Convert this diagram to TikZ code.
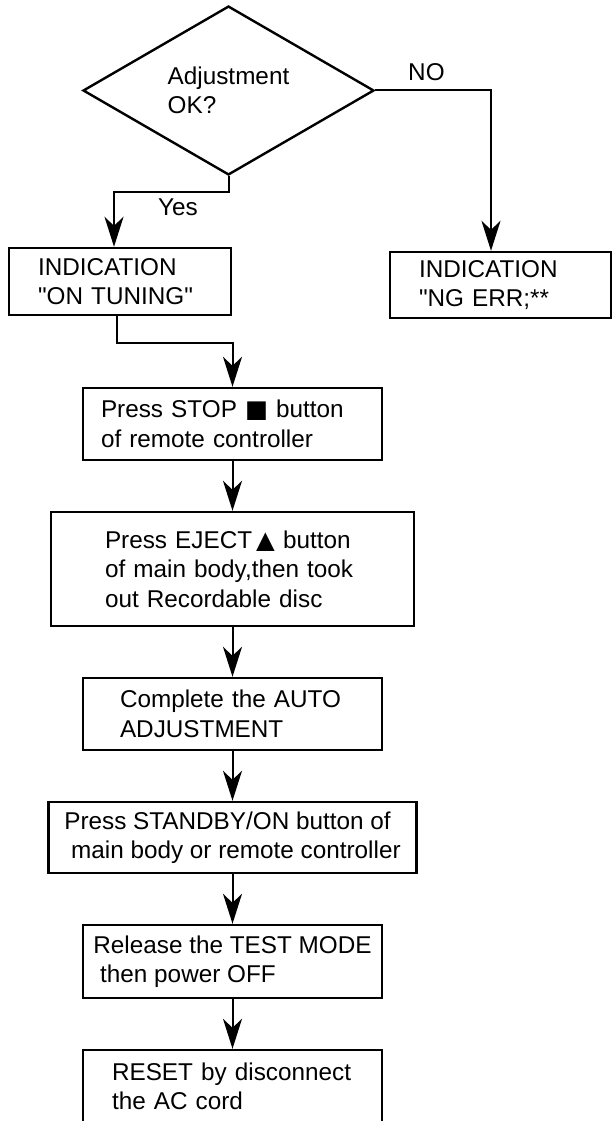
\documentclass[tikz,border=0pt]{standalone}
\usepackage{fontspec}
\setmainfont{Liberation Sans}[Ligatures=TeXOff]
\newfontfamily\symfont{DejaVu Sans}
\usetikzlibrary{arrows.meta, positioning, shapes.geometric, calc}

\begin{document}
\begin{tikzpicture}[
    x=1pt, y=1pt,
    every node/.style={font=\fontsize{24.3pt}{29.5pt}\selectfont},
    stepbox/.style={draw, line width=2.4pt, inner sep=0pt, align=left, minimum width=299pt, minimum height=72pt},
    test/.style={draw, diamond, line width=2.4pt, inner sep=0pt, align=left, minimum width=291pt, minimum height=163pt},
    arr/.style={-{Stealth[length=30pt, width=19pt, inset=9pt]}, line width=2pt},
    node distance=49.6pt
]
    \useasboundingbox (0,0) rectangle (612,-1121);

    % decision and its two outcomes
    \node[test] (dec) at (228.5,-90.5) {Adjustment\\OK?};
    \node[stepbox, minimum width=222pt, minimum height=67pt, text width=164pt] (ontune) at (120,-281.5)
        {INDICATION\\"ON TUNING"};
    \node[stepbox, minimum width=221pt, minimum height=66pt, text width=163pt] (ngerr) at (500.5,-285)
        {INDICATION\\"NG ERR;**};

    % main column
    \node[stepbox, text width=263pt] (stop) at (232.5,-424)
        {Press STOP {\symfont ■} button\\of remote controller};
    \node[stepbox, below=of stop, minimum width=363pt, minimum height=114pt, text width=255pt] (eject)
        {Press EJECT\,{\symfont ▲} button\\of main body,then took\\out Recordable disc};
    \node[stepbox, below=of eject, text width=225pt] (done)
        {Complete the AUTO\\ADJUSTMENT};
    \node[stepbox, below=of done, minimum width=368pt, minimum height=71pt] (stby)
        {Press STANDBY/ON button of\\\hspace*{.28em}main body or remote controller};
    \node[stepbox, below=of stby, minimum height=73pt] (rel)
        {Release the TEST MODE\\\hspace*{.28em}then power OFF};
    \node[stepbox, below=of rel, minimum height=73pt, text width=241pt] (reset)
        {RESET by disconnect\\the AC cord};

    % branch labels
    \node[anchor=base west, inner sep=0pt] (yeslbl) at (158,-215) {Yes};
    \node[anchor=base west, inner sep=0pt] (nolbl) at (408,-81) {NO};

    % connectors
    \coordinate (yesbend) at ($(dec.south)+(0,-16)$);
    \draw[arr] (dec.south) -- (yesbend) -| ([xshift=-6pt]ontune.north);
    \draw[arr] (dec.east) -| ([xshift=-9.5pt]ngerr.north);
    \draw[arr] ([xshift=-3pt]ontune.south) -- ++(0,-27) -| (stop.north);
    \draw[arr] (stop) -- (eject);
    \draw[arr] (eject) -- (done);
    \draw[arr] (done) -- (stby);
    \draw[arr] (stby) -- (rel);
    \draw[arr] (rel) -- (reset);
\end{tikzpicture}
\end{document}
